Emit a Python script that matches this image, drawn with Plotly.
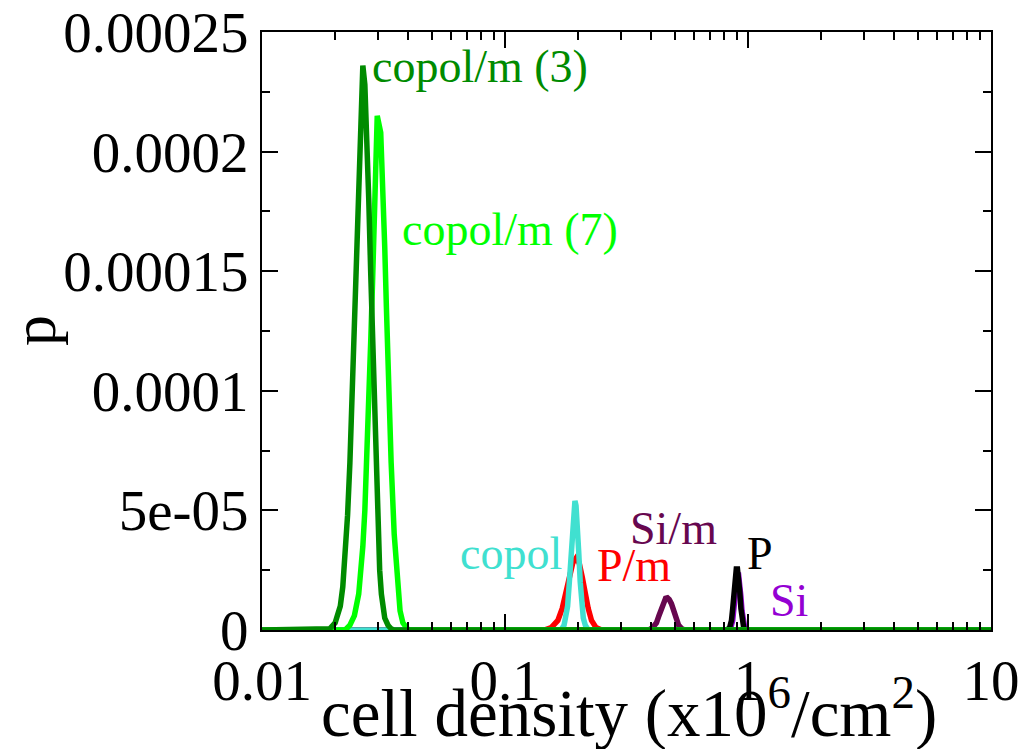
import plotly.graph_objects as go

# ---- data (x in 10^6 cells/cm^2, p) ----
P_x = [0.01, 0.82, 0.84, 0.855, 0.865, 0.875, 0.885, 0.895, 0.905, 0.915, 0.925, 0.935, 0.945, 0.96, 0.98, 10]
P_y = [0, 0, 0.000001, 0.000004, 0.000009, 0.000016, 0.000022, 0.0000255, 0.0000255, 0.000022, 0.000016, 0.000009, 0.000004, 0.000001, 0, 0]

Si_x = [0.01, 0.83, 0.85, 0.865, 0.875, 0.885, 0.895, 0.905, 0.915, 0.925, 0.935, 0.945, 0.955, 0.97, 0.99, 10]
Si_y = [0, 0, 0.000001, 0.000004, 0.000009, 0.000015, 0.00002, 0.000023, 0.000023, 0.00002, 0.000014, 0.000008, 0.000003, 0.000001, 0, 0]

Pm_x = [0.01, 0.145, 0.155, 0.165, 0.172, 0.178, 0.184, 0.19, 0.196, 0.202, 0.208, 0.214, 0.22, 0.227, 0.237, 0.25, 10]
Pm_y = [0, 0, 0.000001, 0.000004, 0.000009, 0.000015, 0.000022, 0.000028, 0.00003, 0.000028, 0.000022, 0.000015, 0.000009, 0.000004, 0.000001, 0, 0]

Sim_x = [0.01, 0.39, 0.405, 0.42, 0.43, 0.44, 0.45, 0.458, 0.466, 0.474, 0.484, 0.494, 0.505, 0.518, 0.535, 0.55, 10]
Sim_y = [0, 0, 0.000001, 0.000003, 0.000006, 0.000009, 0.000012, 0.0000133, 0.0000135, 0.0000128, 0.000011, 0.000008, 0.000005, 0.000002, 0.0000005, 0, 0]

copol_x = [0.01, 0.17, 0.175, 0.178, 0.181, 0.184, 0.187, 0.19, 0.192, 0.194, 0.196, 0.198, 0.201, 0.204, 0.207, 0.21, 0.214, 0.22, 10]
copol_y = [0, 0, 0.000002, 0.000005, 0.00001, 0.00002, 0.000033, 0.000046, 0.000052, 0.000054, 0.000052, 0.000046, 0.000033, 0.00002, 0.00001, 0.000005, 0.000002, 0, 0]

cm7_x = [0.01, 0.022, 0.023, 0.024, 0.025, 0.0255, 0.026, 0.0265, 0.027, 0.0275, 0.028, 0.0285, 0.029, 0.0295, 0.0298,
         0.0308, 0.0315, 0.032, 0.0325, 0.033, 0.0335, 0.034, 0.035, 0.036, 0.037, 0.038, 0.039, 0.040, 10]
cm7_y = [0, 0, 0.000002, 0.000006, 0.000015, 0.000024, 0.000035, 0.00005, 0.00007, 0.000095, 0.00012, 0.000145, 0.00017, 0.000195, 0.000215,
         0.000208, 0.000185, 0.00016, 0.000135, 0.00011, 0.00009, 0.00007, 0.00004, 0.00002, 0.000008, 0.000003, 0.000001, 0, 0]

cm3_x = [0.01, 0.018, 0.019, 0.020, 0.021, 0.0215, 0.022, 0.0225, 0.023, 0.0235, 0.024, 0.0245, 0.025, 0.0255, 0.026,
         0.0265, 0.027, 0.0275, 0.028, 0.0285, 0.029, 0.0295, 0.030, 0.0305, 0.031, 0.032, 0.033, 0.034, 0.035, 10]
cm3_y = [0, 0, 0.0000005, 0.000003, 0.00001, 0.000018, 0.00003, 0.000048, 0.00007, 0.0001, 0.00013, 0.00016, 0.00019, 0.000222, 0.000236,
         0.000228, 0.00021, 0.00018, 0.00015, 0.00012, 0.00009, 0.000063, 0.00004, 0.000025, 0.000015, 0.000005, 0.000002, 0.0000005, 0, 0]

x_tickvals = [0.01, 0.1, 1, 10]
x_ticktext = ["0.01", "0.1", "1", "10"]
y_tickvals = [0, 0.00005, 0.0001, 0.00015, 0.0002, 0.00025]
y_ticktext = ["0", "5e-05", "0.0001", "0.00015", "0.0002", "0.00025"]

series = [
    ("P", P_x, P_y, "#000000"),
    ("Si", Si_x, Si_y, "#9400d3"),
    ("P/m", Pm_x, Pm_y, "#ff0000"),
    ("Si/m", Sim_x, Sim_y, "#67074f"),
    ("copol", copol_x, copol_y, "#40e0d0"),
    ("copol/m (7)", cm7_x, cm7_y, "#00ff00"),
    ("copol/m (3)", cm3_x, cm3_y, "#008b00"),
]
# draw Si under P
order = [1, 0, 2, 3, 4, 5, 6]

# label positions (log10 x, y), left-anchored
labels = [
    ("copol/m (3)", -1.556, 0.0002354, "#008b00"),
    ("copol/m (7)", -1.432, 0.0001675, "#00ff00"),
    ("copol", -1.193, 0.0000321, "#40e0d0"),
    ("P/m", -0.630, 0.0000271, "#ff0000"),
    ("Si/m", -0.494, 0.0000425, "#67074f"),
    ("P", -0.012, 0.0000321, "#000000"),
    ("Si", 0.082, 0.0000125, "#9400d3"),
]

FONT = "Liberation Serif"

fig = go.Figure()
for i in order:
    name, xs, ys, col = series[i]
    fig.add_trace(go.Scatter(x=xs, y=ys, mode="lines", name=name,
                             line=dict(color=col, width=5.5), showlegend=False))

for text, lx, ly, col in labels:
    fig.add_annotation(x=lx, y=ly, xref="x", yref="y", text=text, showarrow=False,
                       xanchor="left", yanchor="middle",
                       font=dict(family=FONT, size=46, color=col))

fig.update_layout(
    width=1023, height=749,
    margin=dict(l=262, r=32, t=32, b=119, autoexpand=False),
    paper_bgcolor="white", plot_bgcolor="white",
    font=dict(family=FONT, color="black"),
    xaxis=dict(type="log", range=[-2, 1], tickvals=x_tickvals, ticktext=x_ticktext,
               ticks="inside", ticklen=16, tickwidth=1.5, tickcolor="black",
               showline=True, linecolor="black", linewidth=2, mirror="allticks",
               showgrid=False, zeroline=False, automargin=False,
               tickfont=dict(family=FONT, size=57, color="black"),
               minor=dict(ticks="inside", ticklen=8, tickwidth=1.5, tickcolor="black",
                          dtick="D1", showgrid=False)),
    yaxis=dict(range=[0, 0.00025], tickvals=y_tickvals, ticktext=y_ticktext,
               ticks="inside", ticklen=16, tickwidth=1.5, tickcolor="black",
               showline=True, linecolor="black", linewidth=2, mirror="allticks",
               showgrid=False, zeroline=False, automargin=False,
               tickfont=dict(family=FONT, size=57, color="black"),
               minor=dict(ticks="inside", ticklen=8, tickwidth=1.5, tickcolor="black",
                          dtick=0.000025, showgrid=False)),
)

fig.add_annotation(x=(629 - 262) / 729, y=-(708 - 630) / 598, xref="paper", yref="paper",
                   text="cell density (x10<sup>6</sup>/cm<sup>2</sup>)", showarrow=False,
                   xanchor="center", yanchor="middle",
                   font=dict(family=FONT, size=67, color="black"))
fig.add_annotation(x=-(262 - 34) / 729, y=(630 - 330) / 598, xref="paper", yref="paper",
                   text="p", showarrow=False, textangle=-90,
                   xanchor="center", yanchor="middle",
                   font=dict(family=FONT, size=62, color="black"))

fig.write_html("out.html", config={"displayModeBar": False},
               post_script="document.body.style.margin='0';document.body.style.overflow='hidden';")
